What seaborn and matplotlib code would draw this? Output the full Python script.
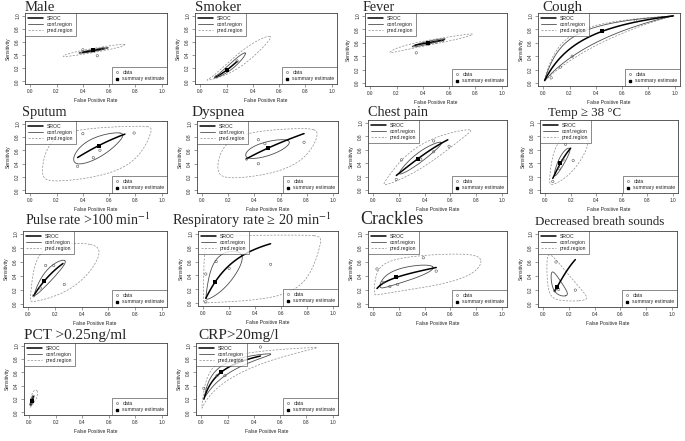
import numpy as np
import matplotlib
matplotlib.use("Agg")
import matplotlib.pyplot as plt
import seaborn as sns
from matplotlib.lines import Line2D

# panel titles
titles = ["Male", "Smoker", "Fever", "Cough",
          "Sputum", "Dyspnea", "Chest pain", "Temp \u2265 38 \u00b0C",
          "Pulse rate >100 min$^{-1}$", "Respiratory rate \u2265 20 min$^{-1}$",
          "Crackles", "Decreased breath sounds",
          "PCT >0.25ng/ml", "CRP>20mg/l"]

# summary estimates (fpr, sensitivity)
summary_fpr = [0.48, 0.20, 0.44, 0.45, 0.52, 0.50, 0.35, 0.12, 0.12, 0.09, 0.18, 0.11, 0.02, 0.15]
summary_sens = [0.47, 0.17, 0.60, 0.77, 0.67, 0.63, 0.47, 0.40, 0.33, 0.30, 0.38, 0.25, 0.17, 0.60]

# SROC line (slope in logit space and fpr range)
sroc_slope = [0.36, 1.7, 0.37, 1.0, 1.13, 0.96, 1.28, 1.5, 1.08, 1.1, 0.39, 1.66, 1.0, 0.84]
sroc_fpr_min = [0.40, 0.12, 0.34, 0.01, 0.36, 0.34, 0.18, 0.06, 0.04, 0.02, 0.03, 0.09, 0.012, 0.02]
sroc_fpr_max = [0.56, 0.28, 0.56, 0.99, 0.72, 0.78, 0.58, 0.20, 0.26, 0.52, 0.49, 0.25, 0.03, 0.45]

# confidence region (logit-space semi-axes, angle)
conf_a = [0.48, 1.5, 0.57, 6.0, 1.3, 0.85, 1.25, 1.05, 1.57, 2.3, 1.5, 1.05, 0.6, 2.4]
conf_b = [0.06, 0.15, 0.08, 0.42, 0.45, 0.38, 0.2, 0.22, 0.3, 0.8, 0.4, 0.4, 0.25, 0.3]
conf_angle = [19.6, 61, 25, 45, 58, 40, 54.5, 59, 50, 55, 24, -60, 35, 40]

# prediction region (logit-space semi-axes, angle)
pred_a = [1.08, 2.8, 1.6, 6.5, 3.1, 2.5, 2.84, 2.2, 3.06, 6.0, 3.3, 2.2, 1.4, 4.8]
pred_b = [0.12, 0.3, 0.14, 0.55, 1.5, 1.3, 0.45, 0.85, 1.3, 2.8, 1.0, 1.0, 0.5, 0.6]
pred_angle = [19.5, 57.5, 21, 45, 48, 45, 52.5, 60.5, 53, 47, 18, -59, 35, 40]

# study data points
data_fpr = [[0.40, 0.51, 0.47, 0.55],
            [0.12, 0.28, 0.20, 0.14],
            [0.35, 0.55, 0.44, 0.50],
            [0.06, 0.13, 0.22, 0.70],
            [0.40, 0.79, 0.53, 0.48, 0.36],
            [0.43, 0.48, 0.78, 0.34, 0.43],
            [0.22, 0.47, 0.59, 0.47, 0.37, 0.18],
            [0.16, 0.22, 0.14, 0.11, 0.06],
            [0.13, 0.19, 0.27, 0.09, 0.04],
            [0.02, 0.10, 0.20, 0.52, 0.02, 0.09],
            [0.03, 0.08, 0.13, 0.19, 0.39, 0.49],
            [0.10, 0.12, 0.25, 0.09],
            [0.01, 0.02, 0.03, 0.02],
            [0.02, 0.12, 0.18, 0.30, 0.45]]
data_sens = [[0.48, 0.39, 0.46, 0.50],
             [0.07, 0.31, 0.18, 0.09],
             [0.45, 0.63, 0.58, 0.61],
             [0.08, 0.24, 0.40, 0.93],
             [0.85, 0.86, 0.60, 0.49, 0.36],
             [0.76, 0.70, 0.72, 0.47, 0.40],
             [0.45, 0.73, 0.65, 0.57, 0.46, 0.16],
             [0.68, 0.44, 0.45, 0.32, 0.13],
             [0.55, 0.55, 0.28, 0.23, 0.12],
             [0.42, 0.60, 0.50, 0.56, 0.02, 0.30],
             [0.50, 0.31, 0.25, 0.28, 0.66, 0.47],
             [0.60, 0.21, 0.20, 0.19],
             [0.12, 0.20, 0.24, 0.15],
             [0.36, 0.55, 0.55, 0.80, 0.98]]

ticks = [0.0, 0.2, 0.4, 0.6, 0.8, 1.0]
tick_labels = ["0.0", "0.2", "0.4", "0.6", "0.8", "1.0"]

# layout in pixels (panel boxes, title position and size)
W, H = 685, 441
box_left = [25, 195, 365, 538, 25, 197, 368, 540, 23, 198, 368, 538, 24, 196]
box_right = [167, 337, 507, 680, 167, 338, 507, 678, 167, 338, 507, 677, 167, 338]
box_top = [13, 13, 13, 13, 121, 121, 120, 120, 231, 231, 231, 231, 343, 343]
box_bottom = [84, 84, 86, 86, 193, 193, 193, 193, 307, 306, 307, 307, 415, 415]
title_x = [25, 195, 363, 542, 22, 192, 368, 548, 25, 172, 360, 535, 24, 198]
title_y = [11, 11, 11, 11, 116, 116, 116, 116, 225, 225, 224, 225, 339, 339]
title_size = [10.6, 10.6, 10.2, 10.8, 10.4, 11.0, 10.2, 9.4, 10.1, 10.3, 13.0, 9.4, 11.0, 11.0]

sns.set_style("ticks")
plt.rcParams['font.family'] = ['Liberation Sans', 'DejaVu Sans']
plt.rcParams['mathtext.fontset'] = 'stix'


def logit(p):
    return np.log(p / (1 - p))


def expit(z):
    return 1 / (1 + np.exp(-z))


tt = np.linspace(0, 2 * np.pi, 400)


def ellipse(cx, cy, a, b, ang):
    th = np.deg2rad(ang)
    x = cx + a * np.cos(tt) * np.cos(th) - b * np.sin(tt) * np.sin(th)
    y = cy + a * np.cos(tt) * np.sin(th) + b * np.sin(tt) * np.cos(th)
    return expit(x), expit(y)


fig = plt.figure(figsize=(W / 100, H / 100), dpi=100)

for i, title in enumerate(titles):
    l, r_, t, b = box_left[i], box_right[i], box_top[i], box_bottom[i]
    ax = fig.add_axes([l / W, 1 - b / H, (r_ - l) / W, (b - t) / H])
    cx, cy = logit(summary_fpr[i]), logit(summary_sens[i])

    px, py = ellipse(cx, cy, pred_a[i], pred_b[i], pred_angle[i])
    sns.lineplot(x=px, y=py, sort=False, estimator=None, ax=ax, color="0.55",
                 linewidth=0.5, linestyle=(0, (3, 2)))
    ex, ey = ellipse(cx, cy, conf_a[i], conf_b[i], conf_angle[i])
    sns.lineplot(x=ex, y=ey, sort=False, estimator=None, ax=ax, color="0.3",
                 linewidth=0.6)
    sx = np.linspace(logit(sroc_fpr_min[i]), logit(sroc_fpr_max[i]), 100)
    sy = cy + sroc_slope[i] * (sx - cx)
    sns.lineplot(x=expit(sx), y=expit(sy), sort=False, estimator=None, ax=ax,
                 color="black", linewidth=1.1)
    ax.scatter(data_fpr[i], data_sens[i], s=3, facecolors="none",
               edgecolors="0.35", linewidths=0.4, zorder=4)
    sns.scatterplot(x=[summary_fpr[i]], y=[summary_sens[i]], ax=ax, color="black",
                    s=5, marker="s", linewidth=0, zorder=5)

    ax.set_xlim(-0.04, 1.04)
    ax.set_ylim(-0.04, 1.04)
    ax.set_xticks(ticks)
    ax.set_xticklabels(tick_labels)
    ax.set_yticks(ticks)
    ax.set_yticklabels(tick_labels, rotation=90, va="center")
    ax.tick_params(length=2, width=0.4, labelsize=3.4, pad=1.5, color="0.3")
    for sp in ax.spines.values():
        sp.set_visible(True)
        sp.set_linewidth(0.6)
        sp.set_color("0.25")
    ax.set_xlabel("False Positive Rate", fontsize=3.6, labelpad=3)
    ax.set_ylabel("Sensitivity", fontsize=3.6, labelpad=3)

    h1 = [Line2D([], [], color="black", lw=1.1),
          Line2D([], [], color="0.3", lw=0.6),
          Line2D([], [], color="0.55", lw=0.5, ls=(0, (3, 2)))]
    leg1 = ax.legend(h1, ["SROC", "conf.region", "pred.region"], loc="upper left",
                     fontsize=3.7, frameon=True, fancybox=False, borderaxespad=0,
                     handlelength=3, borderpad=0.5, labelspacing=0.25,
                     handletextpad=0.8, edgecolor="0.2")
    leg1.get_frame().set_linewidth(0.5)
    ax.add_artist(leg1)
    h2 = [Line2D([], [], color="0.35", marker="o", ls="none", ms=1.5,
                 mfc="none", mew=0.4),
          Line2D([], [], color="black", marker="s", ls="none", ms=1.8)]
    leg2 = ax.legend(h2, ["data", "summary estimate"], loc="lower right",
                     fontsize=3.7, frameon=True, fancybox=False, borderaxespad=0,
                     handlelength=1, borderpad=0.5, labelspacing=0.3,
                     handletextpad=0.6, edgecolor="0.2")
    leg2.get_frame().set_linewidth(0.5)

    fig.text(title_x[i] / W, 1 - title_y[i] / H, title, fontsize=title_size[i],
             family=["Liberation Serif", "DejaVu Serif"], va="baseline", ha="left")

fig.savefig("out.png", dpi=100)
